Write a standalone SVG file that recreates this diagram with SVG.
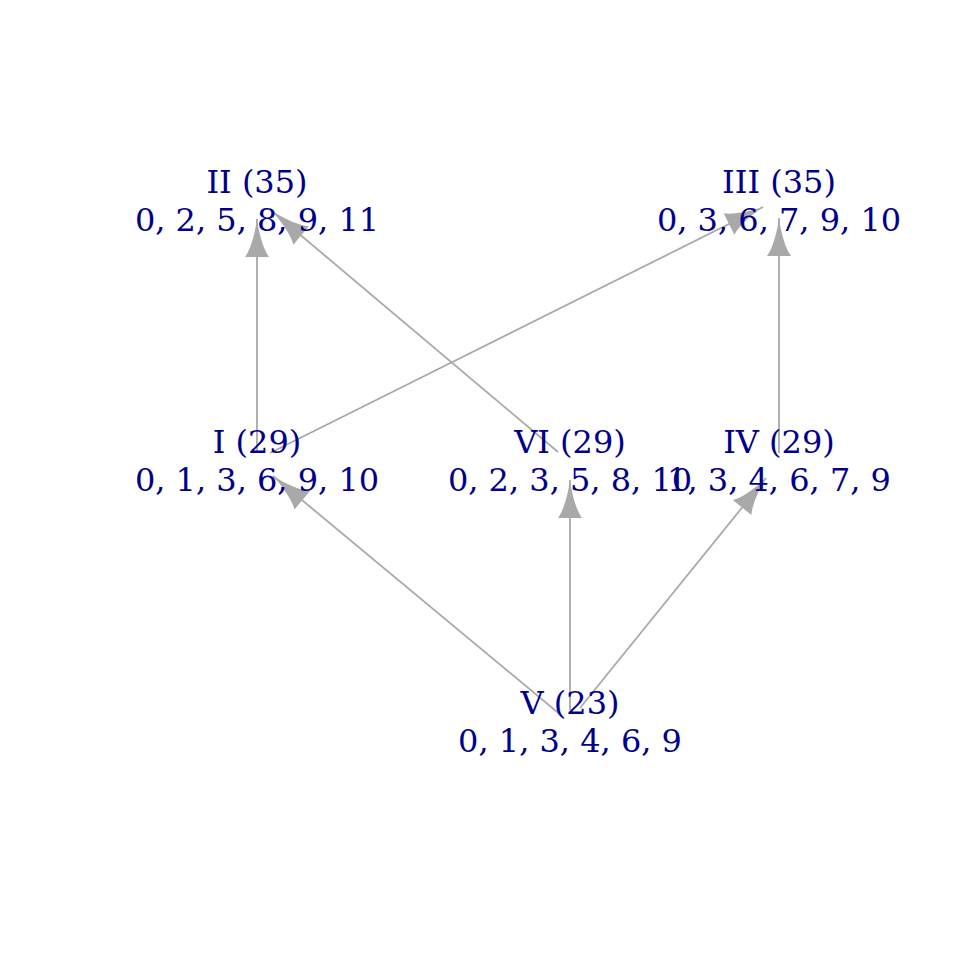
<svg xmlns="http://www.w3.org/2000/svg" width="960" height="960" viewBox="0 0 960 960">
<style>
.lbl{font-family:"DejaVu Serif",serif;font-size:32px;fill:#00008B;text-anchor:middle}
.edge{stroke:#A9A9A9;stroke-width:1.8;fill:none;marker-end:url(#arr)}
</style>
<defs>
<marker id="arr" markerUnits="userSpaceOnUse" viewBox="-40 -15 42 30" markerWidth="42" markerHeight="30" refX="0" refY="0" orient="auto">
<path d="M0,0 C-12,-1.5 -30,-6 -38,-12 L-38,12 C-30,6 -12,1.5 0,0 Z" fill="#A9A9A9"/>
</marker>
</defs>
<rect width="960" height="960" fill="#ffffff"/>
<g id="edges">
<line class="edge" x1="257" y1="453" x2="257" y2="219"/>
<line class="edge" x1="558" y1="452" x2="272" y2="211"/>
<line class="edge" x1="270" y1="453" x2="763" y2="207"/>
<line class="edge" x1="779" y1="453" x2="779" y2="218"/>
<line class="edge" x1="562" y1="716" x2="273" y2="476"/>
<line class="edge" x1="570" y1="710" x2="570" y2="480"/>
<line class="edge" x1="580" y1="708" x2="766" y2="478"/>
</g>
<g id="node-II"><text class="lbl" x="257" y="193">II (35)</text><text class="lbl" x="257" y="230.5">0, 2, 5, 8, 9, 11</text></g>
<g id="node-III"><text class="lbl" x="779" y="193">III (35)</text><text class="lbl" x="779" y="230.5">0, 3, 6, 7, 9, 10</text></g>
<g id="node-I"><text class="lbl" x="257" y="453">I (29)</text><text class="lbl" x="257" y="491">0, 1, 3, 6, 9, 10</text></g>
<g id="node-VI"><text class="lbl" x="570" y="453">VI (29)</text><text class="lbl" x="570" y="491">0, 2, 3, 5, 8, 10</text></g>
<g id="node-IV"><text class="lbl" x="779" y="453">IV (29)</text><text class="lbl" x="779" y="491">1, 3, 4, 6, 7, 9</text></g>
<g id="node-V"><text class="lbl" x="570" y="714">V (23)</text><text class="lbl" x="570" y="752">0, 1, 3, 4, 6, 9</text></g>
</svg>
